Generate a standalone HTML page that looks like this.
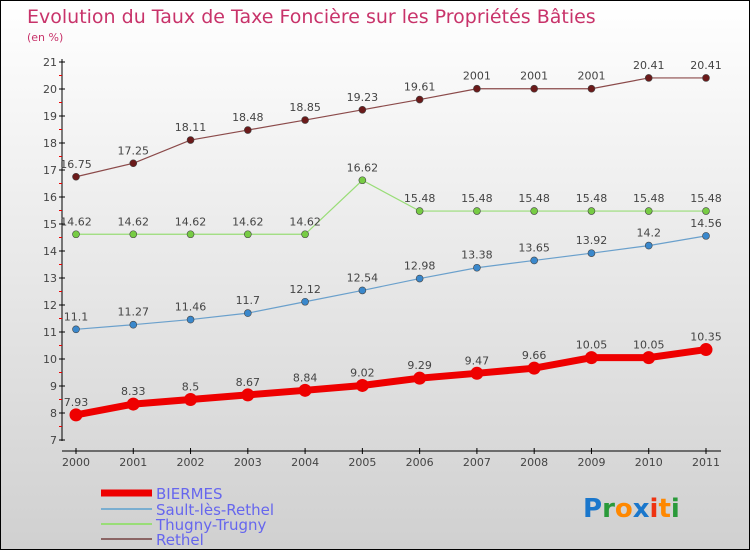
<!DOCTYPE html>
<html><head><meta charset="utf-8"><style>
body{margin:0}
#c{width:750px;height:550px;position:relative;box-sizing:border-box;border:1px solid #000;background:linear-gradient(#ffffff,#d0d0d0);font-family:"DejaVu Sans","Liberation Sans",sans-serif;overflow:hidden}
</style></head><body>
<div id="c">
<svg id="s" width="748" height="548" xmlns="http://www.w3.org/2000/svg">
<text x="26" y="22" font-size="19" fill="#c8336a">Evolution du Taux de Taxe Foncière sur les Propriétés Bâties</text>
<text x="26" y="40" font-size="11" fill="#c8336a">(en %)</text>
<g id="axes"></g><g id="series"></g>
<g>
<line x1="100" y1="492" x2="151" y2="492" stroke="#ee0000" stroke-width="7"/>
<text x="155" y="498" font-size="15" fill="#6666ee">BIERMES</text>
<line x1="100" y1="508" x2="151" y2="508" stroke="#7aaed0" stroke-width="2"/>
<text x="155" y="514" font-size="15" fill="#6666ee">Sault-lès-Rethel</text>
<line x1="100" y1="523" x2="151" y2="523" stroke="#99dd77" stroke-width="2"/>
<text x="155" y="529" font-size="15" fill="#6666ee">Thugny-Trugny</text>
<line x1="100" y1="538" x2="151" y2="538" stroke="#8b6565" stroke-width="2"/>
<text x="155" y="544" font-size="15" fill="#6666ee">Rethel</text>
</g>
<text x="582" y="516" font-size="26" font-weight="bold"><tspan fill="#1a77cc">P</tspan><tspan fill="#2a9a3a">r</tspan><tspan fill="#ff8800">o</tspan><tspan fill="#1a77cc">x</tspan><tspan fill="#ee3311">i</tspan><tspan fill="#ff8800">t</tspan><tspan fill="#2a9a3a">i</tspan></text>
</svg></div>
<script>
const years=[2000,2001,2002,2003,2004,2005,2006,2007,2008,2009,2010,2011];
const biermes=[7.93,8.33,8.5,8.67,8.84,9.02,9.29,9.47,9.66,10.05,10.05,10.35];
const sault=[11.1,11.27,11.46,11.7,12.12,12.54,12.98,13.38,13.65,13.92,14.2,14.56];
const thugny=[14.62,14.62,14.62,14.62,14.62,16.62,15.48,15.48,15.48,15.48,15.48,15.48];
const rethel=[16.75,17.25,18.11,18.48,18.85,19.23,19.61,20.01,20.01,20.01,20.41,20.41];
const yTicks=[7,8,9,10,11,12,13,14,15,16,17,18,19,20,21];
const bLabels=["7.93","8.33","8.5","8.67","8.84","9.02","9.29","9.47","9.66","10.05","10.05","10.35"];
const sLabels=["11.1","11.27","11.46","11.7","12.12","12.54","12.98","13.38","13.65","13.92","14.2","14.56"];
const tLabels=["14.62","14.62","14.62","14.62","14.62","16.62","15.48","15.48","15.48","15.48","15.48","15.48"];
const rLabels=["16.75","17.25","18.11","18.48","18.85","19.23","19.61","2001","2001","2001","20.41","20.41"];
const NS="http://www.w3.org/2000/svg";
const x=i=>75+i*(705-75)/(years.length-1);
const y=v=>439-(v-7)*(439-61)/14;
function mk(t,a,p){const e=document.createElementNS(NS,t);for(const k in a)e.setAttribute(k,a[k]);p.appendChild(e);return e;}
const ax=document.getElementById('axes');
let e=mk('line',{x1:61,y1:58,x2:61,y2:440,stroke:'#000','stroke-width':1},ax);


e=mk('line',{x1:61,y1:450,x2:720,y2:450,stroke:'#000','stroke-width':1},ax);


yTicks.forEach((v,i)=>{
 mk('line',{x1:58,y1:y(v),x2:64,y2:y(v),stroke:'#000'},ax);
 if(i<yTicks.length-1) mk('line',{x1:58,y1:y(v+0.5),x2:61,y2:y(v+0.5),stroke:'#e00'},ax);
 const t=mk('text',{x:56,y:y(v)+4,'font-size':11,fill:'#444','text-anchor':'end'},ax);
 t.textContent=v;
 
 
});
years.forEach((yr,i)=>{
 mk('line',{x1:x(i),y1:447,x2:x(i),y2:453,stroke:'#000'},ax);
 const t=mk('text',{x:x(i),y:465,'font-size':11,fill:'#444','text-anchor':'middle'},ax);
 t.textContent=yr;
 
 
});
const sg=document.getElementById('series');
function series(vals,labels,col,fill,w,r,name){
 const g=mk('g',{},sg);
 
 
 mk('polyline',{points:vals.map((v,i)=>x(i)+','+y(v)).join(' '),fill:'none',stroke:col,'stroke-width':w},g);
 vals.forEach((v,i)=>{
  const c=mk('circle',{cx:x(i),cy:y(v),r:r,fill:fill,stroke:r>4?'none':'#444','stroke-width':0.6},g);
  
  
  const t=mk('text',{x:x(i),y:y(v)-9,'font-size':11,fill:'#444','text-anchor':'middle'},g);
  t.textContent=labels[i];
  
  
 });
}
series(rethel,rLabels,'#8b4a4a','#6b1a1a',1.2,3.5,'rethel');
series(thugny,tLabels,'#99dd77','#77cc44',1.2,3.5,'thugny');
series(sault,sLabels,'#6aa0cc','#3a88cc',1.2,3.5,'sault');
series(biermes,bLabels,'#ee0000','#ee0000',7,6.5,'biermes');
</script>
</body></html>
